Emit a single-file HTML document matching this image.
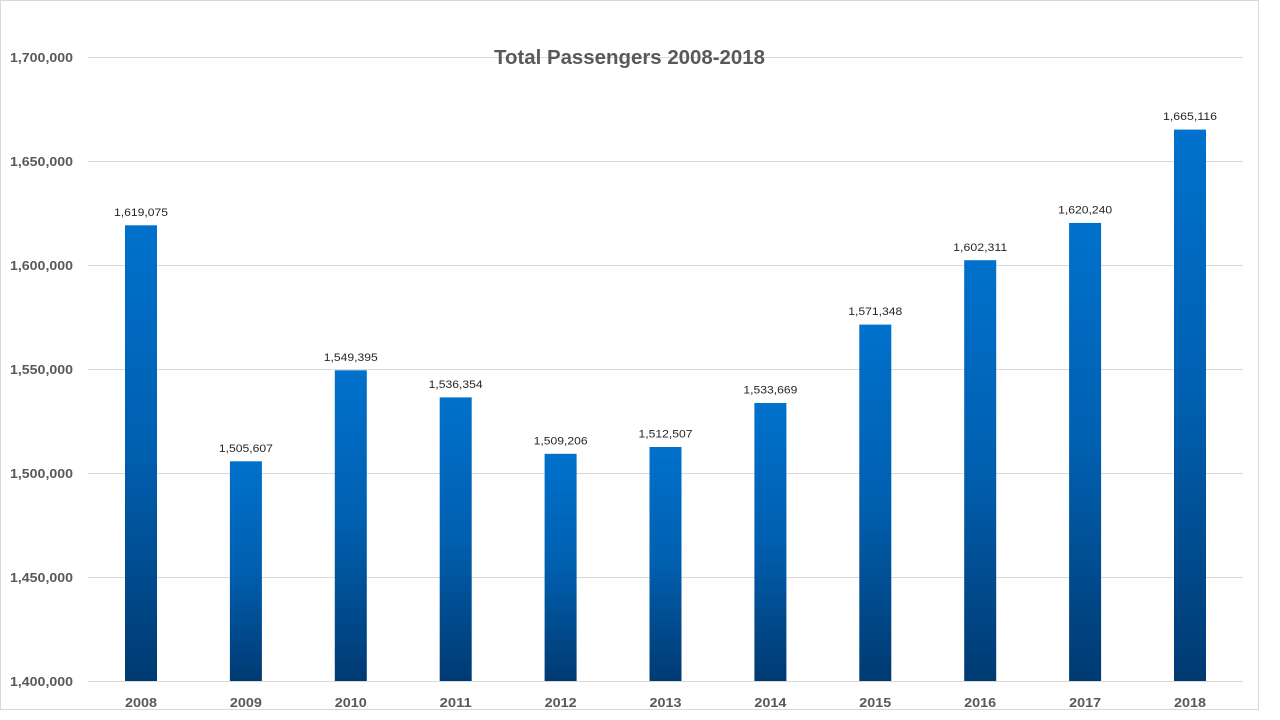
<!DOCTYPE html>
<html>
<head>
<meta charset="utf-8">
<style>
html,body{margin:0;padding:0;background:#fff;}
svg{display:block;}
</style>
</head>
<body>
<svg width="1280" height="720" viewBox="0 0 1280 720" xmlns="http://www.w3.org/2000/svg">
<defs>
<linearGradient id="g" x1="0" y1="0" x2="0" y2="1">
<stop offset="0" stop-color="#0071CC"/>
<stop offset="0.5" stop-color="#005FAF"/>
<stop offset="1" stop-color="#003A72"/>
</linearGradient>
</defs>
<rect x="0" y="0" width="1280" height="720" fill="#fff"/>
<rect x="0.5" y="0.5" width="1258" height="709" fill="none" stroke="#D9D9D9" stroke-width="1"/>
<g stroke="#D9D9D9" stroke-width="1">
<line x1="88" y1="57.5" x2="1243" y2="57.5"/>
<line x1="88" y1="161.5" x2="1243" y2="161.5"/>
<line x1="88" y1="265.5" x2="1243" y2="265.5"/>
<line x1="88" y1="369.5" x2="1243" y2="369.5"/>
<line x1="88" y1="473.5" x2="1243" y2="473.5"/>
<line x1="88" y1="577.5" x2="1243" y2="577.5"/>
<line x1="88" y1="681.5" x2="1243" y2="681.5"/>
</g>
<g font-family="Liberation Sans, sans-serif" font-weight="bold" font-size="12.5" fill="#595959" text-anchor="end">
<text x="73" y="62" textLength="63" lengthAdjust="spacingAndGlyphs">1,700,000</text>
<text x="73" y="166" textLength="63" lengthAdjust="spacingAndGlyphs">1,650,000</text>
<text x="73" y="270" textLength="63" lengthAdjust="spacingAndGlyphs">1,600,000</text>
<text x="73" y="374" textLength="63" lengthAdjust="spacingAndGlyphs">1,550,000</text>
<text x="73" y="478" textLength="63" lengthAdjust="spacingAndGlyphs">1,500,000</text>
<text x="73" y="582" textLength="63" lengthAdjust="spacingAndGlyphs">1,450,000</text>
<text x="73" y="686" textLength="63" lengthAdjust="spacingAndGlyphs">1,400,000</text>
</g>
<text x="629.5" y="64" font-family="Liberation Sans, sans-serif" font-weight="bold" font-size="20" fill="#595959" text-anchor="middle" textLength="271" lengthAdjust="spacingAndGlyphs">Total Passengers 2008-2018</text>
<g fill="url(#g)">
<rect x="125" y="225.3" width="32" height="455.7"/>
<rect x="229.9" y="461.3" width="32" height="219.7"/>
<rect x="334.8" y="370.3" width="32" height="310.7"/>
<rect x="439.7" y="397.4" width="32" height="283.6"/>
<rect x="544.6" y="453.8" width="32" height="227.2"/>
<rect x="649.5" y="447.0" width="32" height="234.0"/>
<rect x="754.4" y="403.0" width="32" height="278.0"/>
<rect x="859.3" y="324.6" width="32" height="356.4"/>
<rect x="964.2" y="260.2" width="32" height="420.8"/>
<rect x="1069.1" y="222.9" width="32" height="458.1"/>
<rect x="1174" y="129.6" width="32" height="551.4"/>
</g>
<g font-family="Liberation Sans, sans-serif" font-size="11" fill="#262626" text-anchor="middle">
<text x="141" y="216" textLength="54" lengthAdjust="spacingAndGlyphs">1,619,075</text>
<text x="245.9" y="452" textLength="54" lengthAdjust="spacingAndGlyphs">1,505,607</text>
<text x="350.8" y="361" textLength="54" lengthAdjust="spacingAndGlyphs">1,549,395</text>
<text x="455.7" y="388" textLength="54" lengthAdjust="spacingAndGlyphs">1,536,354</text>
<text x="560.6" y="444.5" textLength="54" lengthAdjust="spacingAndGlyphs">1,509,206</text>
<text x="665.5" y="437.5" textLength="54" lengthAdjust="spacingAndGlyphs">1,512,507</text>
<text x="770.4" y="393.5" textLength="54" lengthAdjust="spacingAndGlyphs">1,533,669</text>
<text x="875.3" y="315" textLength="54" lengthAdjust="spacingAndGlyphs">1,571,348</text>
<text x="980.2" y="251" textLength="54" lengthAdjust="spacingAndGlyphs">1,602,311</text>
<text x="1085.1" y="213.5" textLength="54" lengthAdjust="spacingAndGlyphs">1,620,240</text>
<text x="1190" y="120" textLength="54" lengthAdjust="spacingAndGlyphs">1,665,116</text>
</g>
<g font-family="Liberation Sans, sans-serif" font-weight="bold" font-size="13" fill="#595959" text-anchor="middle">
<text x="141" y="707" textLength="32" lengthAdjust="spacingAndGlyphs">2008</text>
<text x="245.9" y="707" textLength="32" lengthAdjust="spacingAndGlyphs">2009</text>
<text x="350.8" y="707" textLength="32" lengthAdjust="spacingAndGlyphs">2010</text>
<text x="455.7" y="707" textLength="32" lengthAdjust="spacingAndGlyphs">2011</text>
<text x="560.6" y="707" textLength="32" lengthAdjust="spacingAndGlyphs">2012</text>
<text x="665.5" y="707" textLength="32" lengthAdjust="spacingAndGlyphs">2013</text>
<text x="770.4" y="707" textLength="32" lengthAdjust="spacingAndGlyphs">2014</text>
<text x="875.3" y="707" textLength="32" lengthAdjust="spacingAndGlyphs">2015</text>
<text x="980.2" y="707" textLength="32" lengthAdjust="spacingAndGlyphs">2016</text>
<text x="1085.1" y="707" textLength="32" lengthAdjust="spacingAndGlyphs">2017</text>
<text x="1190" y="707" textLength="32" lengthAdjust="spacingAndGlyphs">2018</text>
</g>
</svg>
</body>
</html>
